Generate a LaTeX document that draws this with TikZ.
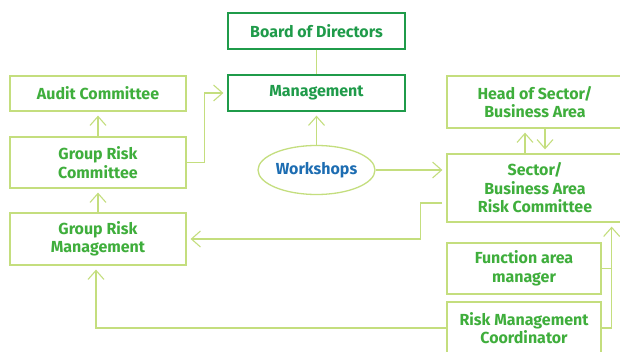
\documentclass[tikz,border=0pt]{standalone}
\usepackage{fontspec}
\setsansfont{Fira Sans}
\usetikzlibrary{arrows.meta,shapes.geometric}
\definecolor{lime}{HTML}{C4DE7E}
\definecolor{leaf}{HTML}{3FAE3C}
\definecolor{forest}{HTML}{1F9B4A}
\definecolor{sea}{HTML}{1D6DB2}

\tikzset{
  lightbox/.style={draw=lime,line width=1.3pt,text=leaf,align=center,
    inner sep=0pt,font=\sffamily\bfseries\fontsize{16}{18.5}\selectfont},
  darkbox/.style={lightbox,draw=forest,text=forest},
  link/.style={lime,line width=1.3pt},
  arr/.style={link,-{Straight Barb[length=9pt,width=16pt,line width=1.1pt]},shorten >=4pt}
}

\begin{document}
\begin{tikzpicture}[x=1pt,y=-1pt]
  \clip (0,0) rectangle (620,352);
  \fill[white] (0,0) rectangle (620,352);
  % top of the chain
  \node[darkbox,minimum width=177pt,minimum height=36pt] (board) at (316.5,31) {Board of Directors};
  \node[darkbox,minimum width=177pt,minimum height=36pt] (mgmt) at (316.5,93) {Management};
  % left column
  \node[lightbox,minimum width=176pt,minimum height=35pt] (audit) at (98,93.5) {Audit Committee};
  \node[lightbox,minimum width=176pt,minimum height=51pt] (grc) at (98,162.5) {Group Risk\\Committee};
  \node[lightbox,minimum width=176pt,minimum height=52pt] (grm) at (98,239) {Group Risk\\Management};
  % centre
  \node[ellipse,draw=lime,line width=1.3pt,text=sea,inner sep=0pt,minimum width=117pt,minimum height=49pt,
    font=\sffamily\bfseries\fontsize{16}{18.5}\selectfont] (ws) at (316.5,170) {Workshops};
  % right column
  \node[lightbox,minimum width=176pt,minimum height=52pt] (head) at (535,102) {Head of Sector/\\Business Area};
  \node[lightbox,minimum width=176pt,minimum height=68pt] (sector) at (535,188) {Sector/\\Business Area\\Risk Committee};
  \node[lightbox,minimum width=154pt,minimum height=51pt] (func) at (524,268.5) {Function area\\manager};
  \node[lightbox,minimum width=154pt,minimum height=52pt] (coord) at (524,328) {Risk Management\\Coordinator};

  \draw[link] (board) -- (mgmt);
  \draw[arr] (grc) -- (audit);
  \draw[arr] (grm) -- (grc);
  \draw[arr] (grc.east) -- ++(18,0) |- (mgmt.west);
  \draw[arr] (ws) -- (mgmt);
  \draw[arr] (ws.east) -- (ws.east -| sector.west);
  \draw[arr] ([xshift=-10pt]sector.north) -- ([xshift=-10pt]head.south);
  \draw[arr] ([xshift=10pt]head.south) -- ([xshift=10pt]sector.north);
  \draw[arr,{Straight Barb[length=9pt,width=16pt,line width=1.1pt]}-,shorten <=4pt]
    (grm.east) -- ++(234,0) |- ([yshift=-15pt]sector.west);
  \draw[arr] (coord.west) -| ([xshift=-2pt]grm.south);
  \draw[link] (func.east) -- ++(10,0);
  \draw[arr] (coord.east) -- ++(10,0) coordinate (rc) -- (rc |- sector.south);
\end{tikzpicture}
\end{document}
